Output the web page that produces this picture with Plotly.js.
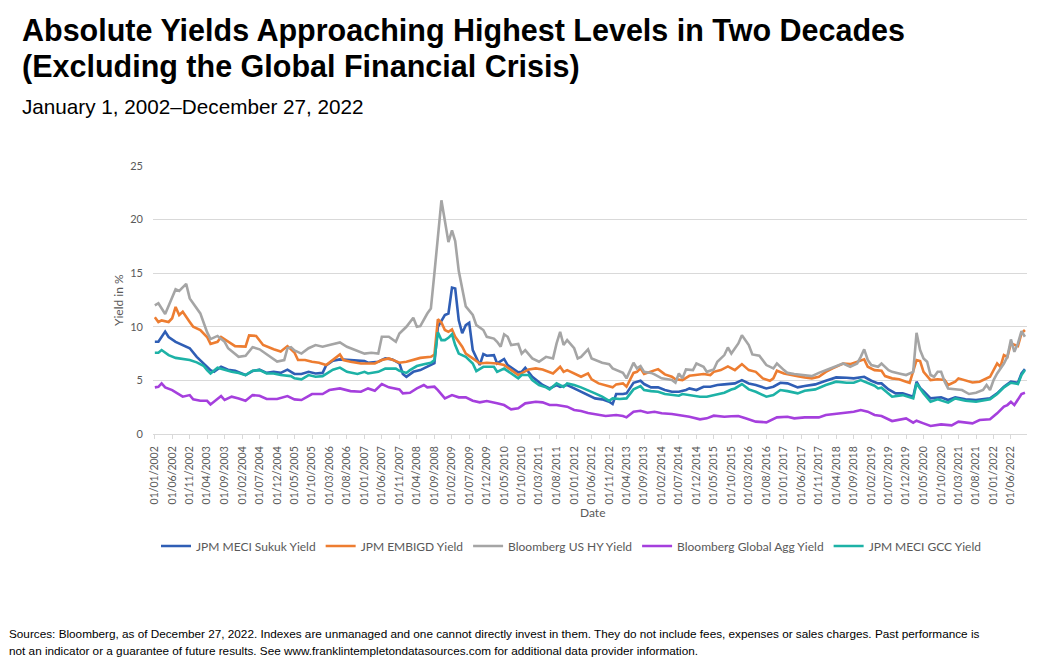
<!DOCTYPE html>
<html>
<head>
<meta charset="utf-8">
<script src="https://cdn.plot.ly/plotly-3.0.1.min.js"></script>
<style>
  html, body { margin: 0; padding: 0; background: #ffffff; }
  #chart { width: 1040px; height: 665px; }
</style>
</head>
<body>
<div id="chart"></div>
<script>
// ---- DATA (month index = months since January 2002; values = yield in %) ----
const sukukMonths = [0,1,3,4,6,8,10,12,14,16,17,19,21,23,26,28,30,32,34,36,38,40,42,44,46,48,49,51,53,55,58,60,61,64,66,68,70,71,72,74,76,78,80,81,83,84,85,86,87,88,89,90,91,93,94,95,97,98,100,101,104,105,106,108,110,111,113,115,116,118,120,122,124,126,128,130,131,132,134,135,137,139,140,142,144,146,148,150,152,153,155,157,159,161,163,165,166,168,170,172,175,177,179,181,184,186,189,192,195,198,200,203,205,207,208,210,212,214,217,218,219,220,222,225,227,229,232,235,239,241,243,245,247,248,249];
const sukukYield = [8.6,8.6,9.55,9.05,8.6,8.3,8.0,7.2,6.6,5.95,5.8,6.27,6.0,5.9,5.5,5.87,6.0,5.7,5.8,5.7,6.0,5.6,5.6,5.8,5.65,5.7,6.4,6.83,6.96,6.9,6.83,6.8,6.65,6.74,7.05,6.96,6.58,5.6,5.34,5.8,5.96,6.27,6.6,10.0,11.1,11.24,13.66,13.57,10.6,9.4,10.15,10.37,7.83,6.43,7.45,7.3,7.36,6.58,7.0,6.43,5.75,5.8,6.18,5.34,4.88,4.57,4.25,4.57,4.4,4.57,4.25,3.94,3.7,3.32,3.23,3.01,2.8,3.73,3.73,3.79,4.78,4.97,4.66,4.35,4.35,4.1,3.94,3.94,4.1,4.25,4.1,4.41,4.41,4.57,4.63,4.7,4.72,5.03,4.72,4.57,4.25,4.41,4.78,4.72,4.35,4.47,4.63,4.97,5.28,5.25,5.19,5.34,4.97,4.72,4.72,4.16,3.79,3.79,3.48,4.88,4.3,4.0,3.32,3.42,3.17,3.42,3.23,3.17,3.32,3.79,4.41,4.88,4.78,5.65,6.05];

const embiMonths = [0,1,2,4,5,6,7,8,10,11,13,15,16,18,19,21,23,26,27,29,31,34,36,38,40,41,43,45,47,49,51,53,54,56,59,61,63,65,67,69,70,72,74,76,79,80,81,82,83,84,85,86,88,89,91,93,95,98,100,102,104,107,109,111,114,116,117,118,120,122,124,125,127,130,131,132,134,135,137,138,139,140,142,144,146,148,149,151,153,155,157,159,160,162,164,166,168,170,172,174,176,177,178,180,182,184,186,188,190,192,194,196,197,199,201,203,204,206,208,209,211,213,215,216,218,219,220,222,224,226,227,229,230,232,234,236,238,239,241,242,243,244,245,247,248,249];
const embiYield = [10.9,10.45,10.6,10.45,10.8,11.85,11.1,11.4,10.45,10.0,9.7,9.05,8.4,8.6,9.05,8.6,8.2,8.15,9.2,9.15,8.3,7.9,7.7,8.2,7.6,6.9,6.9,6.74,6.65,6.43,6.9,7.42,6.9,6.74,6.58,6.58,6.58,6.9,7.05,6.8,6.65,6.74,6.9,7.1,7.2,7.4,10.7,10.4,9.7,9.53,9.75,9.07,8.14,7.5,7.05,6.58,6.65,6.58,6.43,5.96,5.5,6.02,6.12,6.02,5.65,6.27,5.8,5.96,5.65,5.34,5.65,5.1,4.72,4.41,4.35,4.63,4.72,4.41,5.7,5.8,6.12,5.6,5.8,6.05,5.56,5.34,5.1,5.03,5.43,5.5,5.6,5.5,5.8,5.96,6.3,5.96,6.52,5.96,5.8,5.19,4.97,5.19,5.9,5.65,5.5,5.4,5.28,5.19,5.34,5.8,6.12,6.43,6.58,6.52,6.74,6.96,6.27,5.96,5.9,5.4,5.19,5.1,4.88,4.78,6.9,6.8,5.8,5.03,5.1,5.03,4.57,4.88,5.19,4.97,4.81,4.88,5.19,5.34,6.58,6.27,7.36,7.2,8.45,8.2,9.38,9.7];

const hyMonths = [0,1,3,6,7,9,10,12,13,15,16,18,20,21,24,26,28,30,32,35,37,38,39,40,42,44,46,48,50,53,55,58,60,62,64,65,67,69,70,72,74,75,76,78,79,80,81,82,83,84,85,86,87,88,89,91,92,94,95,97,98,99,100,101,102,104,105,106,108,110,112,114,115,116,117,118,120,121,122,124,125,128,130,131,134,135,137,138,139,140,142,143,145,148,149,150,151,152,154,155,157,158,160,161,163,164,165,167,168,170,171,173,175,177,178,180,181,183,185,188,190,192,194,196,197,199,201,202,203,204,205,207,208,210,211,213,215,217,218,219,220,221,222,223,224,225,226,227,229,231,233,235,237,238,239,240,241,243,244,245,246,247,248,249];
const hyYield = [12.0,12.2,11.2,13.5,13.35,14.0,12.65,11.7,11.25,9.5,8.85,9.15,8.6,8.0,7.2,7.3,8.1,7.9,7.45,6.75,6.9,8.0,8.1,7.8,7.5,8.0,8.3,8.14,8.3,8.54,8.14,7.73,7.5,7.58,7.5,9.07,9.07,8.6,9.38,10.0,10.84,10.0,10.06,11.24,11.7,15.0,18.7,21.8,19.9,17.9,19.0,18.0,15.2,13.7,11.9,11.1,10.15,9.7,9.07,8.9,8.6,8.14,9.3,9.07,8.3,8.4,7.5,7.83,7.05,6.74,7.2,7.05,8.45,9.53,8.3,8.76,8.0,7.05,7.2,7.9,7.05,6.65,6.52,6.12,5.7,5.19,6.65,6.12,6.34,5.8,5.7,5.56,5.19,5.03,4.78,5.65,5.19,6.02,5.96,6.58,6.27,5.8,6.02,6.74,7.36,8.07,7.5,8.45,9.22,8.3,7.42,7.3,6.43,6.12,6.58,5.96,5.7,5.6,5.5,5.4,5.7,5.96,6.18,6.43,6.58,6.27,6.58,7.2,7.9,6.9,6.43,6.27,6.58,5.96,5.8,5.65,5.5,5.8,9.44,7.83,7.05,6.74,5.5,5.34,5.8,5.8,4.88,4.25,4.16,4.1,3.73,3.85,4.1,4.57,4.1,5.03,5.65,6.58,7.2,8.82,7.67,8.45,9.6,9.07];

const aggMonths = [0,1,2,3,5,8,10,11,13,15,16,18,19,20,22,24,26,28,30,32,35,38,40,42,45,48,50,53,56,59,61,63,65,67,70,71,73,75,77,78,80,81,83,85,87,89,91,93,95,98,100,102,104,106,109,111,113,115,118,120,122,124,126,129,132,134,135,137,139,141,143,145,148,151,153,156,158,160,163,165,167,169,172,175,178,181,183,186,190,192,195,198,200,202,204,206,208,211,215,217,218,220,222,225,228,230,234,236,239,241,243,244,245,246,248,249];
const aggYield = [4.35,4.4,4.72,4.35,4.1,3.48,3.63,3.23,3.1,3.1,2.76,3.32,3.54,3.17,3.48,3.32,3.1,3.63,3.57,3.26,3.26,3.54,3.23,3.17,3.73,3.73,4.1,4.25,4.0,3.94,4.25,4.04,4.66,4.35,4.16,3.79,3.85,4.25,4.57,4.35,4.41,4.1,3.32,3.63,3.42,3.42,3.1,2.95,3.07,2.86,2.7,2.3,2.39,2.86,3.01,2.95,2.7,2.7,2.55,2.24,2.14,1.96,1.86,1.68,1.77,1.68,1.55,2.08,2.17,1.99,2.08,1.93,1.86,1.71,1.61,1.37,1.46,1.71,1.61,1.65,1.68,1.46,1.15,1.09,1.55,1.61,1.46,1.55,1.55,1.77,1.86,1.99,2.08,2.24,2.08,1.77,1.68,1.21,1.46,1.06,1.24,0.99,0.75,0.9,0.81,1.15,0.99,1.3,1.37,1.93,2.55,2.7,3.01,2.7,3.73,3.85];

const gccMonths = [0,1,2,4,6,8,10,12,14,15,16,18,20,22,24,26,28,30,32,34,36,39,40,42,44,46,48,50,51,53,55,58,60,61,64,66,69,70,72,73,75,77,79,80,81,82,83,84,85,86,87,89,91,92,94,97,98,100,102,104,105,107,108,110,112,113,115,117,118,120,122,124,126,128,130,131,133,135,137,139,140,142,144,146,148,150,151,153,156,158,160,163,165,166,168,170,172,175,177,179,181,184,186,189,192,195,198,200,202,205,206,207,208,211,214,217,218,220,222,224,227,229,232,235,239,241,243,245,247,248,249];
const gccYield = [7.58,7.58,7.83,7.36,7.1,7.0,6.9,6.68,6.37,5.96,5.65,6.18,5.96,5.8,5.7,5.5,5.9,5.96,5.65,5.65,5.5,5.4,5.19,5.1,5.5,5.34,5.4,5.8,6.0,6.2,5.8,5.6,5.8,5.65,5.8,6.1,6.1,5.9,5.7,5.96,6.34,6.5,6.65,6.9,9.5,8.76,8.76,8.97,9.3,8.3,7.5,7.2,6.58,5.87,6.27,6.27,5.8,6.1,5.65,5.19,5.5,5.5,5.03,4.57,4.35,4.16,4.72,4.4,4.72,4.57,4.35,4.1,3.79,3.48,3.1,3.32,3.26,3.32,4.16,4.47,4.1,4.0,3.94,3.73,3.63,3.57,3.73,3.63,3.48,3.48,3.63,3.85,4.15,4.25,4.66,4.16,3.94,3.48,3.63,4.1,4.0,3.79,4.04,4.16,4.57,4.88,4.78,4.78,5.03,4.66,4.5,4.25,4.32,3.48,3.63,3.32,4.72,3.79,3.01,3.23,2.92,3.32,3.1,3.01,3.23,3.73,4.35,4.78,4.66,5.5,5.96];

const seriesNames = ['JPM MECI Sukuk Yield','JPM EMBIGD Yield','Bloomberg US HY Yield','Bloomberg Global Agg Yield','JPM MECI GCC Yield'];
const seriesColors = ['#2F5EB5','#ED7D31','#A5A5A5','#A53FDD','#1DB2A6'];

const titleLine1 = 'Absolute Yields Approaching Highest Levels in Two Decades';
const titleLine2 = '(Excluding the Global Financial Crisis)';
const subtitle = 'January 1, 2002\u2013December 27, 2022';
const sourceLine1 = 'Sources: Bloomberg, as of December 27, 2022. Indexes are unmanaged and one cannot directly invest in them. They do not include fees, expenses or sales charges. Past performance is';
const sourceLine2 = 'not an indicator or a guarantee of future results. See www.franklintempletondatasources.com for additional data provider information.';

// ---- BUILD ----
function monthToDate(m) {
  const y = 2002 + Math.floor(m / 12);
  const mo = (m % 12) + 1;
  return y + '-' + String(mo).padStart(2, '0') + '-01';
}
const monthSets = [sukukMonths, embiMonths, hyMonths, aggMonths, gccMonths];
const yieldSets = [sukukYield, embiYield, hyYield, aggYield, gccYield];

const traces = seriesNames.map((name, i) => ({
  type: 'scatter',
  mode: 'lines',
  name: name,
  x: monthSets[i].map(monthToDate),
  y: yieldSets[i],
  line: { color: seriesColors[i], width: 2.6 },
  hoverinfo: 'skip'
}));

// plot area in pixels: left 153, right 1027, top 166, bottom 434
const L = 153, R = 1027, T = 166, B = 434;
const px = x => (x - L) / (R - L);
const py = y => (B - y) / (B - T);

const gray = '#595959';
const chartFont = 'Lato, "Open Sans", sans-serif';
const headFont = '"Liberation Sans", Arial, sans-serif';

const layout = {
  width: 1040,
  height: 665,
  paper_bgcolor: '#ffffff',
  plot_bgcolor: '#ffffff',
  margin: { l: L, r: 1040 - R, t: T, b: 665 - B, pad: 0 },
  showlegend: true,
  legend: {
    orientation: 'h',
    x: px(156), xanchor: 'left',
    y: py(546), yanchor: 'middle',
    font: { family: chartFont, size: 12, color: gray },
    itemwidth: 30,
    traceorder: 'normal',
    bgcolor: 'rgba(0,0,0,0)'
  },
  xaxis: {
    type: 'date',
    range: ['2001-12-16', '2022-10-19'],
    tick0: '2002-01-01',
    dtick: 'M5',
    tickformat: '%d/%m/%Y',
    tickangle: -90,
    tickfont: { family: chartFont, size: 10.5, color: gray },
    ticks: 'outside',
    ticklen: 4,
    tickcolor: '#d9d9d9',
    ticklabelstandoff: 3,
    showgrid: false,
    showline: true,
    linecolor: '#d9d9d9',
    linewidth: 1,
    zeroline: false,
    fixedrange: true
  },
  yaxis: {
    range: [0, 25],
    tickvals: [0, 5, 10, 15, 20, 25],
    tickfont: { family: chartFont, size: 11, color: gray },
    showgrid: true,
    gridcolor: '#d9d9d9',
    gridwidth: 1,
    showline: false,
    zeroline: false,
    ticks: '',
    ticklabelstandoff: 9,
    fixedrange: true
  },
  annotations: [
    { text: '<b>' + titleLine1 + '</b>', xref: 'paper', yref: 'paper', x: px(20), y: py(30), xanchor: 'left', yanchor: 'middle', showarrow: false, font: { family: headFont, size: 30.5, color: '#000000' } },
    { text: '<b>' + titleLine2 + '</b>', xref: 'paper', yref: 'paper', x: px(20), y: py(66), xanchor: 'left', yanchor: 'middle', showarrow: false, font: { family: headFont, size: 30.5, color: '#000000' } },
    { text: subtitle, xref: 'paper', yref: 'paper', x: px(20), y: py(106), xanchor: 'left', yanchor: 'middle', showarrow: false, font: { family: headFont, size: 20.7, color: '#000000' } },
    { text: 'Yield in %', xref: 'paper', yref: 'paper', x: px(118), y: py(300), xanchor: 'center', yanchor: 'middle', textangle: -90, showarrow: false, font: { family: chartFont, size: 12, color: gray } },
    { text: 'Date', xref: 'paper', yref: 'paper', x: px(592), y: py(512), xanchor: 'center', yanchor: 'middle', showarrow: false, font: { family: chartFont, size: 12, color: gray } },
    { text: sourceLine1, xref: 'paper', yref: 'paper', x: px(7), y: py(633.5), xanchor: 'left', yanchor: 'middle', showarrow: false, font: { family: headFont, size: 11.75, color: '#000000' } },
    { text: sourceLine2, xref: 'paper', yref: 'paper', x: px(7), y: py(650.5), xanchor: 'left', yanchor: 'middle', showarrow: false, font: { family: headFont, size: 11.75, color: '#000000' } }
  ]
};

Plotly.newPlot('chart', traces, layout, { displayModeBar: false, staticPlot: true });
</script>
</body>
</html>
